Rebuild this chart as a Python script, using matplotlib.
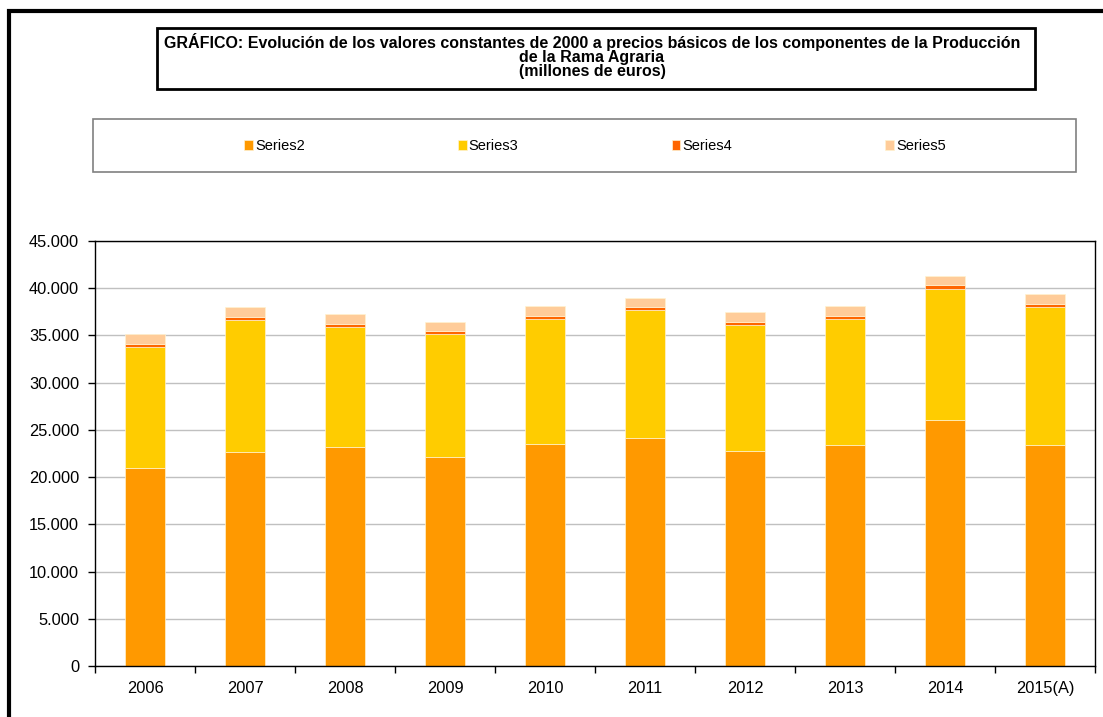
import matplotlib
matplotlib.use("Agg")
import matplotlib.pyplot as plt
from matplotlib.patches import Rectangle
from matplotlib.ticker import FuncFormatter, MultipleLocator, FixedLocator

plt.rcParams['font.family'] = ['Liberation Sans', 'DejaVu Sans']

years = ["2006", "2007", "2008", "2009", "2010", "2011", "2012", "2013", "2014", "2015(A)"]
series2 = [20970, 22630, 23220, 22170, 23470, 24180, 22800, 23360, 26010, 23360]
series3 = [12780, 14010, 12680, 12980, 13270, 13470, 13270, 13380, 13910, 14610]
series4 = [350, 310, 310, 290, 320, 320, 320, 360, 420, 390]
series5 = [1050, 1050, 1060, 1020, 1060, 1030, 1060, 1060, 990, 1030]

names = ["Series2", "Series3", "Series4", "Series5"]
colores = ["#FF9900", "#FFCC00", "#FF6600", "#FFCC99"]

W, H = 1103, 717
fig = plt.figure(figsize=(W / 100, H / 100), dpi=100)

def fx(px):
    return px / W

def fy(py):
    return 1 - py / H

# marco exterior (solo arriba e izquierda visibles)
fig.add_artist(Rectangle((fx(9), fy(800)), fx(1200), fy(11) - fy(800), transform=fig.transFigure,
                         fill=False, edgecolor="black", linewidth=3, clip_on=False))

# caja del titulo
fig.add_artist(Rectangle((fx(157), fy(89)), fx(1035) - fx(157), fy(28) - fy(89), transform=fig.transFigure,
                         fill=False, edgecolor="black", linewidth=2))
titulo = ("GRÁFICO: Evolución de los valores constantes de 2000 a precios básicos de los componentes de la Producción\n"
          "de la Rama Agraria\n(millones de euros)")
fig.text(fx(592), fy(56), titulo, ha="center", va="center", fontsize=11.5, fontweight="bold",
         linespacing=0.95)

# caja de la leyenda
fig.add_artist(Rectangle((fx(93), fy(172)), fx(1076) - fx(93), fy(119) - fy(172), transform=fig.transFigure,
                         fill=False, edgecolor="#808080", linewidth=1.2))

ax = fig.add_axes([fx(95), fy(666), fx(1095) - fx(95), fy(241) - fy(666)])

x = list(range(len(years)))
base = [0] * len(years)
handles = []
for vals, nom, col in zip([series2, series3, series4, series5], names, colores):
    b = ax.bar(x, vals, 0.4, bottom=base, color=col, edgecolor="#FFF2D0", linewidth=0.5, label=nom, zorder=2)
    handles.append(b)
    base = [a + v for a, v in zip(base, vals)]

ax.set_xlim(-0.5, len(years) - 0.5)
ax.set_ylim(0, 45000)
ax.yaxis.set_major_locator(MultipleLocator(5000))
ax.yaxis.set_major_formatter(FuncFormatter(lambda v, p: f"{int(v):,}".replace(",", ".")))
ax.grid(axis="y", color="#C0C0C0", linewidth=1, zorder=0)
ax.set_axisbelow(True)

ax.set_xticks(x)
ax.set_xticklabels(years)
ax.xaxis.set_minor_locator(FixedLocator([i - 0.5 for i in range(len(years) + 1)]))
ax.tick_params(axis="x", which="major", length=0, pad=11, labelsize=11.8)
ax.tick_params(axis="x", which="minor", length=5, width=1, direction="out")
ax.tick_params(axis="y", length=5, width=1, direction="out", pad=6.5, labelsize=11.8)

for s in ax.spines.values():
    s.set_linewidth(1)
    s.set_color("black")

fig.legend(handles=handles, labels=names, loc="center", bbox_to_anchor=(fx(595), fy(146)), ncol=4,
           frameon=False, fontsize=10.5, handlelength=0.6, handleheight=0.75, handletextpad=0.15,
           columnspacing=10.5)

fig.savefig("out.png", dpi=100)
